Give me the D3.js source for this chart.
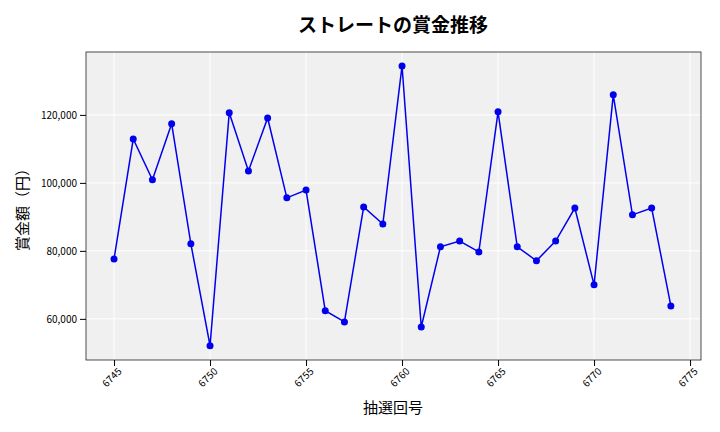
<!DOCTYPE html>
<html><head><meta charset="utf-8">
<script src="https://cdn.jsdelivr.net/npm/d3@7"></script>
<style>body{margin:0;background:#fff}text{font-family:"Noto Sans CJK JP","Noto Sans",sans-serif}</style>
</head><body><svg id="c" width="720" height="432"></svg>
<script>
var draws = d3.range(6745, 6775);
var prizes = [77600,112900,100900,117400,82100,52100,120600,103500,119100,95600,
	97900,62400,59100,92900,87900,134400,57600,81200,82900,79700,
	120900,81200,77100,82900,92600,70000,125900,90600,92600,63800];
var xTicks = [6745,6750,6755,6760,6765,6770,6775];
var yTicks = [60000,80000,100000,120000];

var svg = d3.select("#c");
var L = 86, R = 701, T = 52, B = 360;
var x = d3.scaleLinear().domain([6743.54, 6775.57]).range([L, R]);
var y = d3.scaleLinear().domain([47900, 138500]).range([B, T]);

svg.append("rect").attr("x", L).attr("y", T).attr("width", R - L).attr("height", B - T).attr("fill", "#f0f0f0");

// grid
svg.append("g").selectAll("line").data(xTicks).enter().append("line")
	.attr("x1", x).attr("x2", x).attr("y1", T).attr("y2", B).attr("stroke", "#fff");
svg.append("g").selectAll("line").data(yTicks).enter().append("line")
	.attr("y1", y).attr("y2", y).attr("x1", L).attr("x2", R).attr("stroke", "#fff");

svg.append("rect").attr("x", L).attr("y", T).attr("width", R - L).attr("height", B - T)
	.attr("fill", "none").attr("stroke", "#222").attr("stroke-width", 0.8);

var xa = svg.append("g").attr("transform", "translate(0," + B + ")")
	.call(d3.axisBottom(x).tickValues(xTicks).tickFormat(d3.format("d")).tickSizeOuter(0));
xa.select(".domain").remove();
xa.selectAll("text").attr("font-size", 10).attr("text-anchor", "end")
	.attr("transform", "rotate(-45)").attr("dx", "-0.3em").attr("dy", "0.5em");

var ya = svg.append("g").attr("transform", "translate(" + L + ",0)")
	.call(d3.axisLeft(y).tickValues(yTicks).tickFormat(d3.format(",")).tickSizeOuter(0));
ya.select(".domain").remove();
ya.selectAll("text").attr("font-size", 10);

var line = d3.line().x(function(d, i) { return x(draws[i]); }).y(function(d) { return y(d); });
svg.append("path").datum(prizes).attr("d", line).attr("fill", "none").attr("stroke", "#0000ee").attr("stroke-width", 1.5);
svg.append("g").selectAll("circle").data(prizes).enter().append("circle")
	.attr("cx", function(d, i) { return x(draws[i]); }).attr("cy", y).attr("r", 3.5).attr("fill", "#0000ee");

svg.append("text").attr("x", 393).attr("y", 32).attr("text-anchor", "middle")
	.attr("font-size", 19).attr("font-weight", "bold").text("ストレートの賞金推移");
svg.append("text").attr("x", 393).attr("y", 413).attr("text-anchor", "middle")
	.attr("font-size", 15).text("抽選回号");
svg.append("text").attr("transform", "translate(28,206) rotate(-90)").attr("text-anchor", "middle")
	.attr("font-size", 15).text("賞金額（円）");
</script></body></html>
